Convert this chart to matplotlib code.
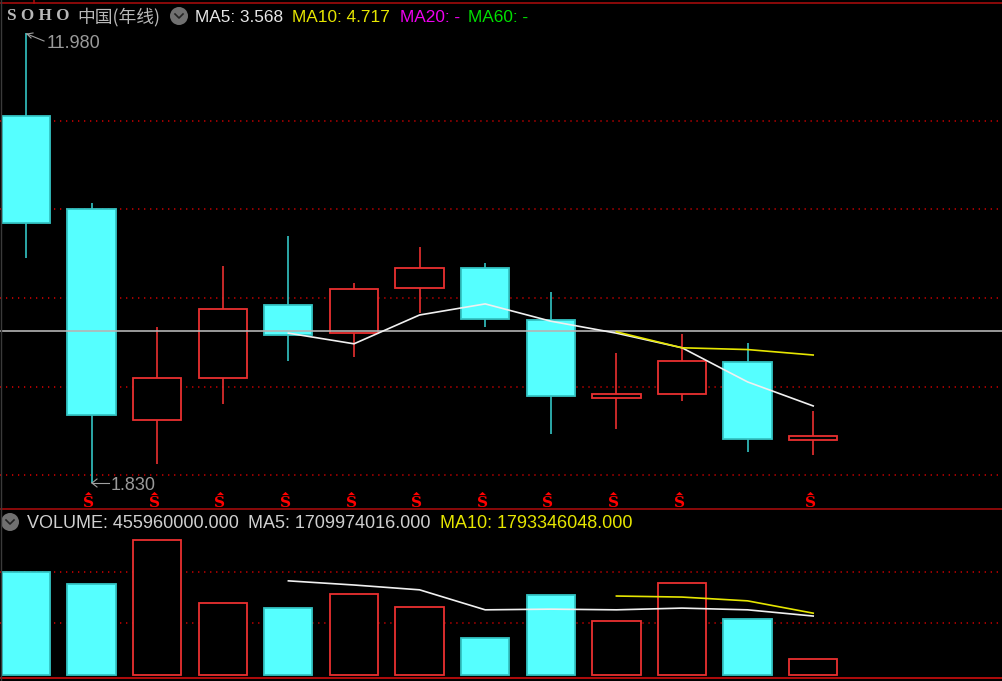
import matplotlib
matplotlib.use('Agg')
import matplotlib.pyplot as plt
from matplotlib.patches import Circle

plt.rcParams['font.family'] = ['Liberation Sans', 'Noto Sans CJK SC', 'DejaVu Sans']

# K线数据（从图上读出来的）
opens = [10.11, 8.01, 3.25, 4.20, 5.84, 5.21, 6.23, 6.68, 5.51, 3.75, 3.84, 4.56, 2.80]
closes = [7.69, 3.36, 4.20, 5.75, 5.17, 6.21, 6.68, 5.53, 3.79, 3.84, 4.58, 2.82, 2.89]
highs = [11.98, 8.15, 5.35, 6.72, 7.40, 6.34, 7.15, 6.79, 6.14, 4.76, 5.19, 4.99, 3.45]
lows = [6.91, 1.83, 2.26, 3.61, 4.58, 4.67, 5.66, 5.35, 2.94, 3.05, 3.68, 2.53, 2.46]

ma5_x = [4, 5, 6, 7, 8, 9, 10, 11, 12]
ma5 = [5.21, 4.97, 5.62, 5.87, 5.48, 5.21, 4.88, 4.11, 3.568]
ma10_x = [9, 10, 11, 12]
ma10 = [5.24, 4.88, 4.84, 4.717]

# 成交量
volume = [2.99e9, 2.64e9, 3.92e9, 2.09e9, 1.94e9, 2.35e9, 1.97e9, 1.07e9, 2.32e9, 1.57e9, 2.67e9, 1.62e9, 4.56e8]
vol_ma5 = [2.73e9, 2.61e9, 2.47e9, 1.89e9, 1.91e9, 1.89e9, 1.94e9, 1.89e9, 1.71e9]
vol_ma10 = [2.29e9, 2.26e9, 2.15e9, 1.793e9]

price_grid = [2, 4, 6, 8, 10]
vol_grid = [1.5e9, 3e9]
cross_price = 5.26
signal_idx = [1, 2, 3, 4, 5, 6, 7, 8, 9, 10, 12]

CYAN = '#55ffff'
CYAN_EDGE = '#33c4c4'
RED = '#ea3030'
GRID = '#e00000'
FRAME = '#b00c0c'
W, H = 1002, 681
XLIM = (-0.396, 14.878)
BAR_W = 0.735

fig = plt.figure(figsize=(W / 100, H / 100), dpi=100, facecolor='black')


def make_ax(top, bottom):
    a = fig.add_axes([0, 1 - bottom / H, 1, (bottom - top) / H], facecolor='black')
    a.set_xlim(XLIM)
    a.set_xticks([])
    a.set_yticks([])
    for s in a.spines.values():
        s.set_visible(False)
    return a


ax = make_ax(2, 509)
ax.set_ylim(1.2435, 12.68)
ax2 = make_ax(509, 677)
ax2.set_ylim(-5.8e7, 4.814e9)

# 虚线网格
for g in price_grid:
    ax.axhline(g, color=GRID, lw=1.1, ls=(0, (0.8, 3.13)), zorder=1)
for g in vol_grid:
    ax2.axhline(g, color=GRID, lw=1.1, ls=(0, (0.8, 3.13)), zorder=1)

# 蜡烛图
for i in range(len(opens)):
    up = closes[i] >= opens[i]
    edge = RED if up else CYAN_EDGE
    face = 'black' if up else CYAN
    ax.vlines(i, lows[i], highs[i], color=edge, lw=1.2, zorder=2)
    ax.bar(i, abs(closes[i] - opens[i]), BAR_W, bottom=min(opens[i], closes[i]),
           facecolor=face, edgecolor=edge, lw=1.3, zorder=3)
    ax2.bar(i, volume[i], BAR_W, facecolor=face, edgecolor=edge, lw=1.3, zorder=3)

ax.axhline(cross_price, color='#b4b4b4', lw=1.2, zorder=4)
ax.plot(ma5_x, ma5, color='#f0f0f0', lw=1.2, zorder=5)
ax.plot(ma10_x, ma10, color='#e6e600', lw=1.2, zorder=5)
ax2.plot(ma5_x, vol_ma5, color='#f0f0f0', lw=1.2, zorder=5)
ax2.plot(ma10_x, vol_ma10, color='#e6e600', lw=1.2, zorder=4)

# 买卖标记，上面一个扁三角，下面一个粗体S
flat_tri = [(-1, -0.45), (1, -0.45), (0, 0.45)]
for i in signal_idx:
    ax.plot(i - 0.05, 1.61, marker=flat_tri, ms=5, color='#ff0000', mew=0, zorder=6)
    ax.text(i - 0.045, 1.39, 'S', color='#ff0000', fontsize=11, fontweight='bold',
            family='DejaVu Serif', ha='center', va='center', zorder=6)

# 覆盖层，文字和边框用像素坐标
top = fig.add_axes([0, 0, 1, 1], facecolor='none')
top.set_xlim(0, W)
top.set_ylim(H, 0)
top.axis('off')

top.plot([0, W], [2.5, 2.5], color=FRAME, lw=1.1)
top.plot([34, 34], [0, 2.5], color=FRAME, lw=1.1)
top.plot([0, W], [509, 509], color=FRAME, lw=1.1)
top.plot([0, W], [677.5, 677.5], color=FRAME, lw=1.4)
top.plot([0.5, 0.5], [0, H], color='#3a3a3a', lw=1)

FS = 12.4
FS2 = 13
top.text(7, 16, 'S O H O', color='#b8b8b8', fontsize=12.3, fontweight='bold',
         family='Liberation Serif', va='center')
top.text(77, 17, '中国(年线)', color='#b8b8b8', fontsize=12.8, va='center',
         family=['Noto Sans CJK SC', 'DejaVu Sans'])
top.text(195, 17, 'MA5: 3.568', color='#e6e6e6', fontsize=FS, va='center')
top.text(292, 17, 'MA10: 4.717', color='#e6e600', fontsize=FS, va='center')
top.text(400, 17, 'MA20: -', color='#ee00ee', fontsize=FS, va='center')
top.text(468, 17, 'MA60: -', color='#00e000', fontsize=FS, va='center')
top.text(27, 523, 'VOLUME: 455960000.000', color='#d0d0d0', fontsize=FS2, va='center')
top.text(248, 523, 'MA5: 1709974016.000', color='#d0d0d0', fontsize=FS2, va='center')
top.text(440, 523, 'MA10: 1793346048.000', color='#e6e600', fontsize=FS2, va='center')

# 圆形下拉按钮
for cx, cy in [(179, 16), (10, 522)]:
    top.add_patch(Circle((cx, cy), 9, facecolor='#707070', edgecolor='none'))
    top.plot([cx - 4, cx, cx + 4], [cy - 2, cy + 2, cy - 2], color='#222222', lw=1.2)

# 最高最低价标注
top.text(47, 43, '11.980', color='#9a9a9a', fontsize=FS2, va='center')
top.plot([27, 44], [34, 41], color='#a0a0a0', lw=0.8)
top.plot([27, 33], [34, 33], color='#a0a0a0', lw=0.8)
top.plot([27, 31], [34, 38], color='#a0a0a0', lw=0.8)
top.text(111, 485, '1.830', color='#9a9a9a', fontsize=FS2, va='center')
top.plot([92, 109], [483, 483], color='#a0a0a0', lw=0.8)
top.plot([92, 97], [483, 479], color='#a0a0a0', lw=0.8)
top.plot([92, 97], [483, 487], color='#a0a0a0', lw=0.8)

fig.savefig('out.png', dpi=100, facecolor='black')
